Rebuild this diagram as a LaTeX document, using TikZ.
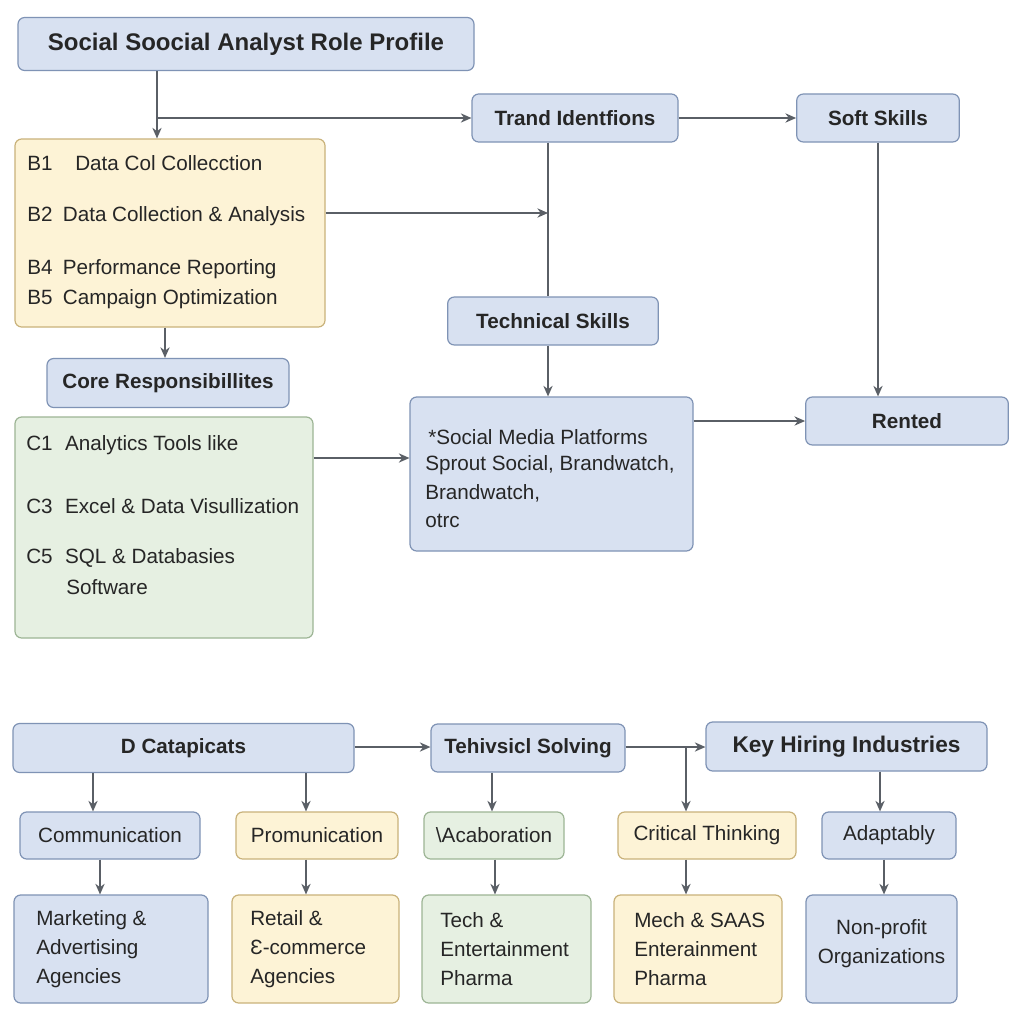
\documentclass[tikz,border=0pt]{standalone}
\usepackage{fontspec}
\setmainfont{Liberation Sans}
\usetikzlibrary{arrows.meta}
\definecolor{bf}{HTML}{D8E1F1}\definecolor{bd}{HTML}{7F93B5}
\definecolor{yf}{HTML}{FDF3D6}\definecolor{yd}{HTML}{C9B27A}
\definecolor{gf}{HTML}{E6F0E2}\definecolor{gd}{HTML}{9DB595}
\definecolor{ln}{HTML}{5A5F66}
\begin{document}
\begin{tikzpicture}[x=0.75pt,y=-0.75pt,
 box/.style={draw=bd,fill=bf,rounded corners=5pt,line width=0.9pt,inner sep=0pt,font=\fontsize{15.5}{18}\selectfont,text=black!85},
 yb/.style={box,draw=yd,fill=yf},
 gb/.style={box,draw=gd,fill=gf},
 hb/.style={box,font=\fontsize{15.5}{18}\selectfont\bfseries},
 ar/.style={draw=ln,line width=0.9pt,-{Stealth[length=8pt,width=7pt]}},
 pl/.style={draw=ln,line width=0.9pt},
 lt/.style={anchor=west,font=\fontsize{15.5}{18}\selectfont,text=black!85,inner sep=0pt},
 mt/.style={lt,align=left,font=\fontsize{15.5}{21.75}\selectfont}]
\useasboundingbox (0,0) rectangle (1024,1024);
\fill[white] (0,0) rectangle (1024,1024);
% header boxes
\node[hb,minimum width=342pt,minimum height=39.75pt,font=\fontsize{18}{21}\selectfont\bfseries] (title) at (246,44) {Social Soocial Analyst Role Profile};
\node[hb,minimum width=154.5pt,minimum height=36pt] (trand) at (575,118) {Trand Identfions};
\node[hb,minimum width=122pt,minimum height=36pt] (soft) at (878,118) {Soft Skills};
\node[hb,minimum width=158pt,minimum height=36pt] (tech) at (553,321) {Technical Skills};
\node[hb,minimum width=181.5pt,minimum height=36.75pt] (core) at (168,383) {Core Responsibillites};
\node[hb,minimum width=152pt,minimum height=36pt] (rent) at (907,421) {Rented};
% big boxes
\node[yb,minimum width=232.5pt,minimum height=141pt] (B) at (170,233) {};
\node[lt] (b1) at (27,163) {B1\hspace{1.1em}Data Col Collecction};
\node[lt] (b2) at (27,216) {B2\hspace{0.5em}Data Collection \& Analysis};
\node[lt] (b4) at (27,269) {B4\hspace{0.5em}Performance Reporting};
\node[lt] (b5) at (27,299) {B5\hspace{0.5em}Campaign Optimization};
\node[gb,minimum width=223.5pt,minimum height=165.75pt] (C) at (164,527.5) {};
\node[lt] (c1) at (26,445) {C1\hspace{0.6em}Analytics Tools like};
\node[lt] (c3) at (26,506) {C3\hspace{0.6em}Excel \& Data Visullization};
\node[lt] (c5) at (26,558) {C5\hspace{0.6em}SQL \& Databasies};
\node[lt] (c6) at (66,587) {Software};
\node[box,minimum width=212.25pt,minimum height=115.5pt] (S) at (551.5,474) {};
\node[lt] (s1) at (428,437) {*Social Media Platforms};
\node[lt] (s2) at (425,465) {Sprout Social, Brandwatch,};
\node[lt] (s3) at (425,493) {Brandwatch,};
\node[lt] (s4) at (425,521) {otrc};
% lower
\node[hb,minimum width=255.75pt,minimum height=36.75pt] (D) at (183.5,748) {D Catapicats};
\node[hb,minimum width=145.5pt,minimum height=36pt] (T) at (528,748) {Tehivsicl Solving};
\node[hb,minimum width=210.75pt,minimum height=36.75pt,font=\fontsize{17}{20}\selectfont\bfseries] (K) at (846.5,746.5) {Key Hiring Industries};
\node[box,minimum width=135pt,minimum height=35.25pt] (r1) at (110,835.5) {Communication};
\node[yb,minimum width=121.5pt,minimum height=35.25pt] (r2) at (317,835.5) {Promunication};
\node[gb,minimum width=105pt,minimum height=35.25pt] (r3) at (494,835.5) {\textbackslash Acaboration};
\node[yb,minimum width=133.5pt,minimum height=35.25pt] (r4) at (707,835.5) {Critical Thinking};
\node[box,minimum width=100.5pt,minimum height=35.25pt] (r5) at (889,835.5) {Adaptably};
\node[box,minimum width=145.5pt,minimum height=81pt] (q1) at (111,949) {};
\node[mt] (t1) at (36,949) {Marketing \&\\Advertising\\Agencies};
\node[yb,minimum width=125.25pt,minimum height=81pt] (q2) at (315.5,949) {};
\node[mt] (t2) at (250,949) {Retail \&\\Ɛ-commerce\\Agencies};
\node[gb,minimum width=126.75pt,minimum height=81pt] (q3) at (506.5,949) {};
\node[mt] (t3) at (440,949) {Tech \&\\Entertainment\\Pharma};
\node[yb,minimum width=126pt,minimum height=81pt] (q4) at (698,949) {};
\node[mt] (t4) at (634,949) {Mech \& SAAS\\Enterainment\\Pharma};
\node[box,minimum width=113.25pt,minimum height=81pt] (q5) at (881.5,949) {};
\node[align=center,inner sep=0pt,text=black!85,font=\fontsize{15.5}{21.75}\selectfont] (t5) at (881.5,944) {Non-profit\\Organizations};
% connectors
\coordinate (j1) at (157,118);
\draw[ar] (title.south -| j1) -- (B.north -| j1);
\draw[ar] (j1) -- (trand.west);
\draw[ar] (trand.east) -- (soft.west);
\coordinate (j2) at (548,213);
\draw[ar] (B.east |- j2) -- (j2);
\draw[pl] (trand.south -| j2) -- (tech.north -| j2);
\draw[ar] (tech.south -| j2) -- (S.north -| j2);
\draw[ar] (soft.south -| 878,0) -- (rent.north -| 878,0);
\draw[ar] (S.east |- rent) -- (rent.west);
\draw[ar] (B.south -| 165,0) -- (core.north -| 165,0);
\draw[ar] (C.east |- 0,458) -- (S.west |- 0,458);
\draw[ar] (D.east |- 0,747) -- (T.west |- 0,747);
\draw[ar] (T.east |- 0,747) -- (K.west |- 0,747);
\draw[ar] (686,747) -- (r4.north -| 686,0);
\draw[ar] (D.south -| 93,0) -- (r1.north -| 93,0);
\draw[ar] (D.south -| 306,0) -- (r2.north -| 306,0);
\draw[ar] (T.south -| 492,0) -- (r3.north -| 492,0);
\draw[ar] (K.south -| 880,0) -- (r5.north -| 880,0);
\draw[ar] (r1.south -| 100,0) -- (q1.north -| 100,0);
\draw[ar] (r2.south -| 306,0) -- (q2.north -| 306,0);
\draw[ar] (r3.south -| 495,0) -- (q3.north -| 495,0);
\draw[ar] (r4.south -| 686,0) -- (q4.north -| 686,0);
\draw[ar] (r5.south -| 884,0) -- (q5.north -| 884,0);
\end{tikzpicture}
\end{document}
